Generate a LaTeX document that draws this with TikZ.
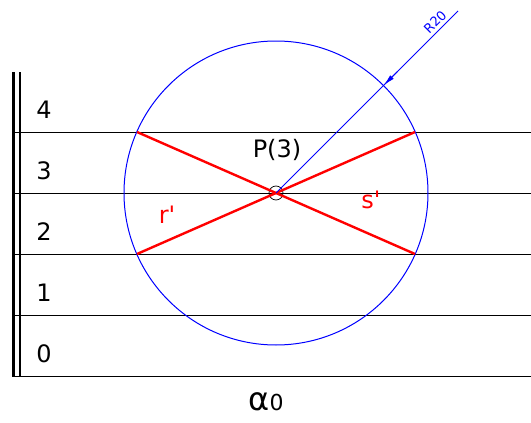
\documentclass[tikz,border=0pt]{standalone}
\usepackage{fontspec}
\setmainfont{DejaVu Sans}[Ligatures=TeXOff]
\usetikzlibrary{arrows.meta, calc}

\begin{document}
\begin{tikzpicture}[
		x=1pt, y=-1pt,
		>=Latex,
		level/.style={draw=black, line width=1pt},
		trace/.style={draw=red, line width=2.4pt},
		circ/.style={draw=blue, line width=1pt},
		num/.style={font=\fontsize{24}{24}\selectfont, anchor=center},
		redlbl/.style={text=red, font=\fontsize{24}{24}\selectfont}
		]
		\useasboundingbox (0,0) rectangle (531,423);
		
		% =========================================================
		% 1. Levels and wall
		% =========================================================
		\foreach \y in {132, 193, 254, 315, 376} {
			\draw[level] (13,\y) -- (531,\y);
		}
		\draw[line width=3pt] (13,72) -- (13,377);
		\draw[line width=1.6pt] (20,72) -- (20,377);
		
		\foreach \y/\t in {110/4, 171/3, 232/2, 293/1, 354/0} {
			\node[num] (L\t) at (44,\y) {\t};
		}
		
		% =========================================================
		% 2. Circle through P
		% =========================================================
		\coordinate (P) at (276,193);
		\draw[circ] (P) circle[radius=152];
		\draw[line width=0.7pt] (P) circle[radius=7];
		\node[font=\fontsize{24}{24}\selectfont] (Plbl) at (277,150) {P(3)};
		
		% Intersections with the levels
		\coordinate (A) at (137,132);
		\coordinate (B) at (415,132);
		\coordinate (C) at (137,254);
		\coordinate (D) at (415,254);
		\draw[trace] (A) -- (D);
		\draw[trace] (C) -- (B);
		\node[redlbl] (r) at (167,215) {r'};
		\node[redlbl] (s) at (371,200) {s'};
		
		% Radius leader
		\coordinate (Rend) at (458,11);
		\coordinate (Rhit) at ($(P)+(107.5,-107.5)$);
		\draw[circ] (P) -- (Rend);
		\draw[circ, -{Latex[length=12pt, width=5pt]}] ($(Rhit)+(14,-14)$) -- (Rhit);
		\node[text=blue, font=\fontsize{13}{13}\selectfont, rotate=45, inner sep=0pt] (R) at (435,22) {R20};
		
		% =========================================================
		% 3. Plane name
		% =========================================================
		\node (alpha) at (266,402) {{\fontsize{32}{32}\selectfont α}{\fontsize{22}{22}\selectfont 0}};
	\end{tikzpicture}
\end{document}
